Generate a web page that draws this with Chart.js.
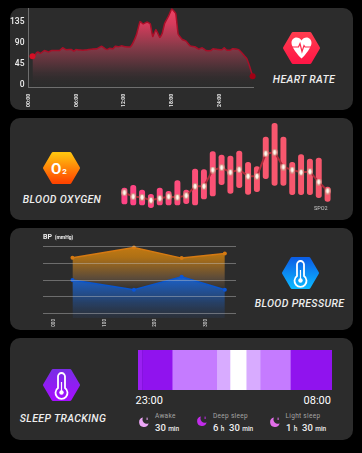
<!DOCTYPE html>
<html><head><meta charset="utf-8">
<script src="https://cdn.jsdelivr.net/npm/chart.js@4"></script>
<style>
html,body{margin:0;padding:0;background:#000;width:362px;height:453px;overflow:hidden;font-family:Roboto,sans-serif;color:#fff}
.panel{position:absolute;left:10px;width:343px;height:102px;background:#2c2c2c;border-radius:10px}
canvas{position:absolute;display:block}
svg{position:absolute;overflow:visible}
.t{position:absolute;white-space:nowrap;line-height:1}
.title{font:italic 500 10.5px Roboto,sans-serif;color:#eee;letter-spacing:.35px;transform:translateX(-50%)}
.grey{font-size:6.5px;color:#a5a5a5;letter-spacing:.3px}
.val{font-size:9.5px;font-weight:500;color:#eee}
.val small{font-size:6.5px;font-weight:500}
</style></head><body>
<div class="panel" style="top:8px"></div>
<div class="panel" style="top:118px"></div>
<div class="panel" style="top:228px"></div>
<div class="panel" style="top:338px"></div>

<canvas id="hr" width="250" height="102" style="left:10px;top:8px"></canvas>
<canvas id="spo" width="212" height="100" style="left:120px;top:115px"></canvas>
<canvas id="bp" width="193" height="90" style="left:43px;top:240px"></canvas>
<canvas id="sleep" width="194" height="40" style="left:138px;top:350px"></canvas>

<svg width="0" height="0" style="left:0;top:0">
<defs>
<linearGradient id="gRed" x1="0" y1="0" x2="0" y2="1"><stop offset="0" stop-color="#ff3b4e"/><stop offset="1" stop-color="#ff1746"/></linearGradient>
<linearGradient id="gOx" x1="0" y1="0" x2="0" y2="1"><stop offset="0" stop-color="#ffc40f"/><stop offset="1" stop-color="#ff4500"/></linearGradient>
<linearGradient id="gBlue" x1="0" y1="0" x2="0" y2="1"><stop offset="0" stop-color="#0b5fe6"/><stop offset="1" stop-color="#0cb6ff"/></linearGradient>
<linearGradient id="gPur" x1="0" y1="0" x2="0" y2="1"><stop offset="0" stop-color="#7a2ce6"/><stop offset="1" stop-color="#a50fff"/></linearGradient>
</defs>
</svg>

<!-- heart rate icon -->
<svg style="left:283px;top:32px" width="37" height="32" viewBox="-18.5 -16 37 32">
<path d="M-17-0L-8.5-14.5H8.5L17 0L8.5 14.5H-8.5Z" fill="url(#gRed)" stroke="url(#gRed)" stroke-width="3" stroke-linejoin="round"/>
<path d="M0 10.5C-4 7-10-1-10-5C-10-9-7-10.5-5-10.5C-3-10.5-1-9.5 0-7.5C1-9.5 3-10.5 5-10.5C7-10.5 10-9 10-5C10-1 4 7 0 10.5Z" fill="#fff"/>
<path d="M-9.5-1H-3L-1.5-4.5L0.5 3.5L2.5-2.5L3.5-1H9.5" fill="none" stroke="#ff2a4c" stroke-width="1.2"/>
</svg>
<!-- oxygen icon -->
<svg style="left:43px;top:152px" width="37" height="32" viewBox="-18.5 -16 37 32">
<path d="M-17 0L-8.5-14.5H8.5L17 0L8.5 14.5H-8.5Z" fill="url(#gOx)" stroke="url(#gOx)" stroke-width="3" stroke-linejoin="round"/>
</svg>
<div class="t" style="left:51px;top:160px;font:700 15px Roboto,sans-serif;color:#fff">O<span style="font-size:8px;margin-left:1px">2</span></div>
<!-- blood pressure icon -->
<svg style="left:281.5px;top:256.5px" width="37" height="32" viewBox="-18.5 -16 37 32">
<path d="M-17 0L-8.5-14.5H8.5L17 0L8.5 14.5H-8.5Z" fill="url(#gBlue)" stroke="url(#gBlue)" stroke-width="3" stroke-linejoin="round"/>
<path d="M-3.5 3V-8.5A3.5 3.5 0 0 1 3.5-8.5V3A6 6 0 1 1-3.5 3Z" fill="none" stroke="#fff" stroke-width="1.8"/>
<circle cx="0" cy="7.5" r="2.2" fill="#fff"/><path d="M0-3V7" stroke="#fff" stroke-width="1.2"/>
</svg>
<!-- sleep icon -->
<svg style="left:43px;top:369px" width="37" height="32" viewBox="-18.5 -16 37 32">
<path d="M-17 0L-8.5-14.5H8.5L17 0L8.5 14.5H-8.5Z" fill="url(#gPur)" stroke="url(#gPur)" stroke-width="3" stroke-linejoin="round"/>
<path d="M-3.5 3V-8.5A3.5 3.5 0 0 1 3.5-8.5V3A6 6 0 1 1-3.5 3Z" fill="none" stroke="#fff" stroke-width="1.8"/>
<circle cx="0" cy="7.5" r="2.2" fill="#fff"/><path d="M0-3V7" stroke="#fff" stroke-width="1.2"/>
</svg>

<div class="t title" style="left:304px;top:73px">HEART RATE</div>
<div class="t title" style="left:62px;top:193px">BLOOD OXYGEN</div>
<div class="t title" style="left:299.5px;top:297px">BLOOD PRESSURE</div>
<div class="t title" style="left:63px;top:412px">SLEEP TRACKING</div>

<div class="t" style="left:314px;top:205.5px;font-size:5.5px;color:#ccc">SPO2</div>
<div class="t" style="left:43px;top:233.5px;font-size:7px;font-weight:700;color:#eee">BP <span style="font-size:5px;margin-left:1px">(mmHg)</span></div>

<div class="t" id="tStart" style="left:135.5px;top:394.5px;font-size:11px;color:#fff"></div>
<div class="t" id="tEnd" style="right:31px;top:394.5px;font-size:11px;color:#fff"></div>

<svg style="left:139px;top:417px" width="10" height="10" viewBox="0 0 10 10"><path d="M4 .5A4.8 4.8 0 1 0 9.6 6.2A4.2 4.2 0 0 1 4 .5Z" fill="#eba6f5"/><rect x="7.6" y=".6" width="1" height="2.4" fill="#eba6f5"/></svg>
<svg style="left:197px;top:416px" width="10" height="10" viewBox="0 0 10 10"><path d="M4 .5A4.8 4.8 0 1 0 9.6 6.2A4.2 4.2 0 0 1 4 .5Z" fill="#c22cea"/><rect x="7.6" y=".6" width="1" height="2.4" fill="#c22cea"/></svg>
<svg style="left:269.5px;top:417px" width="10" height="10" viewBox="0 0 10 10"><path d="M4 .5A4.8 4.8 0 1 0 9.6 6.2A4.2 4.2 0 0 1 4 .5Z" fill="#e26ee8"/><rect x="7.6" y=".6" width="1" height="2.4" fill="#e26ee8"/></svg>

<div class="t grey" style="left:155px;top:413px">Awake</div>
<div class="t val" style="left:155px;top:422.5px">30 <small>min</small></div>
<div class="t grey" style="left:213px;top:413px">Deep sleep</div>
<div class="t val" style="left:213px;top:422.5px">6 <small>h</small>&nbsp; 30 <small>min</small></div>
<div class="t grey" style="left:285.5px;top:413px">Light sleep</div>
<div class="t val" style="left:286px;top:422.5px">1 <small>h</small>&nbsp; 30 <small>min</small></div>

<script>
// Heart rate: hour of day and bpm
const hrHours = [0.5,0.75,1.0,1.2,1.5,2.0,2.5,2.9,3.5,3.9,4.3,4.7,5.4,5.7,5.96,6.5,7.1,7.9,8.6,9.2,9.6,9.9,10.2,10.6,10.9,11.3,11.7,12.2,12.8,13.2,13.6,14.0,14.4,14.9,15.3,15.6,16.0,16.5,16.8,17.1,17.6,18.0,18.5,18.8,19.3,19.8,20.3,20.9,21.4,21.8,22.3,22.9,23.2,23.8,24.3,24.6,24.9,25.4,25.6,26.4,26.7,27.4,27.8,28.15];
const hrBpm = [62,63,69,71,68,74,71,74,74,74,80,76,76,73,76,75,75,77,78,83,78,76,79,78,83,82,84,82,82,93,110,136,131,135,131,104,119,102,111,132,148,163,153,109,98,94,84,82,77,80,74,74,78,76,76,80,75,75,78,76,71,57,39,19];
const hrTicks = [0,6,12,18,24];
const hrTickLabels = ['00:00','06:00','12:00','18:00','24:00'];
const hrYTicks = [0,45,90,135];

// Blood oxygen: low / high of each bar and the line value, in chart units
const spoCats = ['1','2','3','4','5','6','7','8','9','10','11','12','13','14','15','16','17','18','19','20','21','22','23','24'];
const spoLow = [33,30,30,22,30,30,30,34,30,48,57,91,65,82,62,70,109,89,89,61,61,61,52,41];
const spoHigh = [81,89,75,62,81,71,103,75,138,136,190,180,177,192,158,145,234,275,234,158,181,168,171,84];
const spoLine = [67,55,53,44,50,55,53,58,86,86,135,142,128,136,116,116,184,188,144,135,128,130,99,72];

// Blood pressure
const bpX = [0.37,1.58,2.52,3.37];
const bpSystolic = [173,197,172,183];
const bpDiastolic = [120,97,128,97];
const bpGrid = [40,80,120,160,200];
const bpXTicks = [0,1,2,3];
const bpXLabels = ['000','100','200','300'];

// Sleep: segments in minutes from 23:00
const sleepMinutes = [11,2,82,124,37,45,39,84,116];
const sleepColors = ['#9a1ff2','#7d10d6','#9013ee','#c57bff','#d8abff','#ffffff','#d8abff','#c57bff','#9013ee'];
const sleepTimes = ['23:00','08:00'];

document.getElementById('tStart').textContent = sleepTimes[0];
document.getElementById('tEnd').textContent = sleepTimes[1];

Chart.defaults.animation = false;
Chart.defaults.responsive = false;
Chart.defaults.devicePixelRatio = 1;
Chart.defaults.font.family = 'Roboto, sans-serif';
Chart.defaults.plugins.legend.display = false;
Chart.defaults.plugins.tooltip.enabled = false;

function noPad(s){s.paddingTop=0;s.paddingBottom=0;s.paddingLeft=0;s.paddingRight=0;}
function vGrad(ctx, stops){
  const a = ctx.chart.chartArea;
  if(!a) return 'transparent';
  const g = ctx.chart.ctx.createLinearGradient(0,a.top,0,a.bottom);
  stops.forEach(s=>g.addColorStop(s[0],s[1]));
  return g;
}
// tall white marker with a peach rim, used as the line's point style
const dotMarker = document.createElement('canvas');
dotMarker.width = 6; dotMarker.height = 7;
(function(){
  const m = dotMarker.getContext('2d');
  m.fillStyle = '#d98a80';
  m.beginPath(); m.ellipse(3,3.5,2.8,3.4,0,0,Math.PI*2); m.fill();
  m.fillStyle = '#fffaf0';
  m.beginPath(); m.ellipse(3,3.5,1.6,2.4,0,0,Math.PI*2); m.fill();
})();

new Chart(document.getElementById('hr'),{
  type:'line',
  data:{datasets:[{
    data:hrHours.map((h,i)=>({x:h,y:hrBpm[i]})),
    borderColor:'#a80f28',borderWidth:1.5,tension:0.1,fill:'start',
    backgroundColor:c=>vGrad(c,[[0,'#ee4465'],[0.2,'#d63c5c'],[0.5,'#843a48'],[0.8,'#403033'],[1,'rgba(44,44,44,0)']]),
    pointRadius:c=>(c.dataIndex===0||c.dataIndex===hrHours.length-1)?3:0,
    pointBackgroundColor:c=>c.dataIndex===0?'#d50f25':'#a00014',
    pointBorderWidth:0,clip:false
  }]},
  options:{
    layout:{autoPadding:false,padding:{left:0,right:7,top:0,bottom:0}},
    scales:{
      x:{type:'linear',min:0,max:28.2,
        afterBuildTicks:s=>{s.ticks=hrTicks.map(v=>({value:v}));},
        afterFit:s=>{s.height=23;noPad(s);},
        grid:{display:false,drawTicks:false},
        border:{color:'#6e6e6e',width:1},
        ticks:{minRotation:90,maxRotation:90,padding:7,autoSkip:false,color:'#eee',
          font:{size:5,weight:'bold'},
          callback:v=>hrTickLabels[hrTicks.indexOf(v)]}},
      y:{min:-4,max:165,
        afterBuildTicks:s=>{s.ticks=hrYTicks.map(v=>({value:v}));},
        afterFit:s=>{s.width=18.5;noPad(s);},
        grid:{display:false,drawTicks:false},
        border:{color:'#6e6e6e',width:1},
        ticks:{padding:4,color:'#eee',font:{size:8.5,weight:'500'}}}
    }
  }
});

new Chart(document.getElementById('spo'),{
  data:{labels:spoCats,datasets:[
    {type:'line',order:0,data:spoLine,borderColor:'#a92c3a',borderWidth:2,tension:0,
     pointStyle:dotMarker},
    {type:'bar',order:1,data:spoLow.map((l,i)=>[l,spoHigh[i]]),barThickness:5.3,
     borderRadius:3,borderSkipped:false,
     backgroundColor:c=>{
       const a=c.chart.chartArea; if(!a) return '#ff5080';
       const g=c.chart.ctx.createLinearGradient(a.left,0,a.right,0);
       g.addColorStop(0,'#ff4386');g.addColorStop(0.6,'#f9576f');g.addColorStop(1,'#f5576c');
       return g;}}
  ]},
  options:{
    layout:{autoPadding:false,padding:0},
    scales:{x:{display:false},y:{display:false,min:0,max:300}}
  }
});

new Chart(document.getElementById('bp'),{
  type:'line',
  data:{datasets:[
    {order:0,data:bpX.map((x,i)=>({x,y:bpDiastolic[i]})),borderColor:'#0a55cc',borderWidth:1.5,tension:0,
     pointRadius:2,pointBackgroundColor:'#0a55d8',pointBorderWidth:0,fill:'start',clip:false,
     backgroundColor:c=>vGrad(c,[[0,'#1c5fc4'],[0.45,'#1c5fc4'],[0.7,'#24497f'],[1,'rgba(44,52,66,0.6)']])},
    {order:1,data:bpX.map((x,i)=>({x,y:bpSystolic[i]})),borderColor:'#d67a12',borderWidth:1.5,tension:0,
     pointRadius:2,pointBackgroundColor:'#d67a12',pointBorderWidth:0,fill:'start',clip:false,
     backgroundColor:c=>vGrad(c,[[0,'#c37a12'],[0.15,'#ae7015'],[0.45,'#5a4a3a'],[0.7,'rgba(44,44,44,0.3)'],[1,'rgba(44,44,44,0)']])}
  ]},
  options:{
    layout:{autoPadding:false,padding:{top:6.3,left:0,right:0,bottom:0}},
    scales:{
      x:{type:'linear',min:-0.21,max:3.59,
        afterBuildTicks:s=>{s.ticks=bpXTicks.map(v=>({value:v}));},
        afterFit:s=>{s.height=12;noPad(s);},
        grid:{display:false,drawTicks:false},border:{display:false},
        ticks:{minRotation:90,maxRotation:90,padding:1,autoSkip:false,color:'#c4c4c4',
          font:{size:4.5,weight:'bold'},callback:v=>bpXLabels[bpXTicks.indexOf(v)]}},
      y:{min:30,max:200,
        afterBuildTicks:s=>{s.ticks=bpGrid.map(v=>({value:v}));},
        afterFit:s=>{s.width=0;noPad(s);},
        grid:{color:'rgba(200,200,200,0.42)',lineWidth:1,drawTicks:false,z:1},
        border:{display:false},ticks:{display:false}}
    }
  }
});

new Chart(document.getElementById('sleep'),{
  type:'bar',
  data:{labels:['Sleep'],datasets:sleepMinutes.map((m,i)=>({data:[m],backgroundColor:sleepColors[i],barPercentage:1,categoryPercentage:1,borderWidth:0}))},
  options:{
    indexAxis:'y',layout:{autoPadding:false,padding:0},
    scales:{x:{display:false,stacked:true,min:0,max:540},y:{display:false,stacked:true}}
  }
});
</script>
</body></html>
